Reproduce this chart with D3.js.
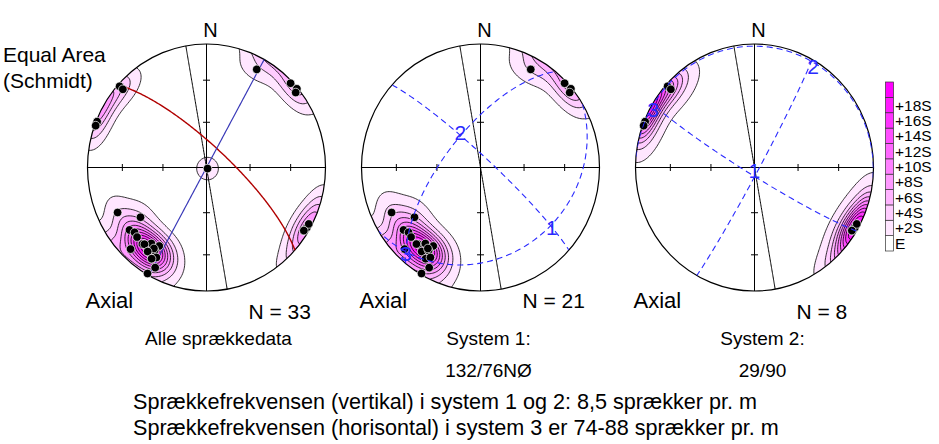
<!DOCTYPE html>
<html>
<head>
<meta charset="utf-8">
<script src="https://cdn.jsdelivr.net/npm/d3@7"></script>
<style>
  body { margin: 0; background: #fff; }
  svg { display: block; }
  text { font-family: "Liberation Sans", Arial, sans-serif; fill: #000; }
</style>
</head>
<body>
<svg id="chart" width="939" height="444"></svg>
<script>
// poles to fractures, [trend, plunge] in degrees
var system1Poles = [[28, 11], [46, 2], [50, 1], [51, 4],
    [244, 18], [234, 32], [232, 19], [229, 21], [226, 20], [220, 20], [217, 24], [212, 26],
    [224, 9], [216, 17], [213, 21], [212, 14], [210, 17], [208, 9], [210, 1], [221, 19], [214, 22]];
var system2Poles = [[312, 2], [312, 6], [292, 1], [290, 1], [122, 4], [120, 3], [118, 3], [122, 4]];
var system3Poles = [[135, 89]];
var otherPoles = [[220, 20], [216, 17], [212, 14]];

// planes, [dip direction, dip]
var profilePlane = [80, 90];
var system1Plane = [42, 76];
var system2Plane = [119, 90];

// principal axes (1, 2, 3), [trend, plunge]
var system1Axes = [[129, 24], [329, 63], [222, 7]];
var system2Axes = [[185, 88], [31, 5], [299, 3]];

var tickPlunges = [30, 60];
var sigmaLevels = [0, 2, 4, 6, 8, 10, 12, 14, 16, 18];
var levelLabels = ['E', '+2S', '+4S', '+6S', '+8S', '+10S', '+12S', '+14S', '+16S', '+18S'];

var panelTitles = [['Alle sprækkedata'], ['System 1:', '132/76NØ'], ['System 2:', '29/90']];
var footnotes = ['Sprækkefrekvensen (vertikal) i system 1 og 2: 8,5 sprækker pr. m',
    'Sprækkefrekvensen (horisontal) i system 3 er 74-88 sprækker pr. m'];

var RX = 119, RY = 123.5, CY = 167.5;
var centersX = [206.5, 480.5, 754.5];
var KAPPA = 50;
var rad = Math.PI / 180;

var svg = d3.select('#chart');

var panels = [
    {poles: system1Poles.concat(system2Poles, system3Poles, otherPoles), planes: [[profilePlane, '#000', 1], [system1Plane, '#b00000', 1.4], [system2Plane, '#3a3ab8', 1.2]], axes: null},
    {poles: system1Poles, planes: [[profilePlane, '#000', 1]], axes: system1Axes},
    {poles: system2Poles, planes: [[profilePlane, '#000', 1]], axes: system2Axes}
];

function toVec(trend, plunge) {
    var t = trend * rad, p = plunge * rad;
    return [Math.cos(p) * Math.sin(t), Math.cos(p) * Math.cos(t), Math.sin(p)];
}

function projectVec(v) {
    var x = v[0], y = v[1], z = v[2];
    if (z < 0) { x = -x; y = -y; z = -z; }
    var h = Math.sqrt(x * x + y * y);
    if (h < 1e-12) return [0, 0];
    var plunge = Math.atan2(z, h);
    var r = Math.SQRT2 * Math.sin((Math.PI / 2 - plunge) / 2);
    return [r * x / h, r * y / h];
}

function unproject(X, Y) {
    var r = Math.min(Math.sqrt(X * X + Y * Y), 1);
    var plunge = Math.PI / 2 - 2 * Math.asin(r / Math.SQRT2);
    var t = Math.atan2(X, Y);
    return [Math.cos(plunge) * Math.sin(t), Math.cos(plunge) * Math.cos(t), Math.sin(plunge)];
}

function greatCircle(plane) {
    var dd = plane[0] * rad, a = plane[1] * rad, s = (plane[0] - 90) * rad;
    var S = [Math.sin(s), Math.cos(s), 0];
    var D = [Math.cos(a) * Math.sin(dd), Math.cos(a) * Math.cos(dd), Math.sin(a)];
    return d3.range(0, 181).map(function (k) {
        var t = k * rad, c = Math.cos(t), n = Math.sin(t);
        return projectVec([c * S[0] + n * D[0], c * S[1] + n * D[1], c * S[2] + n * D[2]]);
    });
}

// exponential counting on a grid in projected space, in units of S above E
var GRID = 161, EXT = 1.04, STEP = 2 * EXT / (GRID - 1);

function densityGrid(poles) {
    var vecs = poles.map(function (p) { return toVec(p[0], p[1]); });
    var n = vecs.length;
    var expected = n / KAPPA;
    var sigma = Math.sqrt(n * (KAPPA / 2 - 1)) / KAPPA;
    var values = new Array(GRID * GRID);
    for (var j = 0; j < GRID; j++) {
        for (var i = 0; i < GRID; i++) {
            var v = unproject(-EXT + i * STEP, EXT - j * STEP);
            var sum = 0;
            vecs.forEach(function (p) {
                var c = Math.abs(p[0] * v[0] + p[1] * v[1] + p[2] * v[2]);
                sum += Math.exp(KAPPA * (c - 1));
            });
            values[j * GRID + i] = (sum - expected) / sigma;
        }
    }
    return values;
}

var levelColor = function (i) {
    return d3.interpolateRgb('#ffffff', '#ff00ff')((i + 1) / sigmaLevels.length);
};

var defs = svg.append('defs');

panels.forEach(function (panel, pi) {
    var cx = centersX[pi];
    var x = d3.scaleLinear().domain([-1, 1]).range([cx - RX, cx + RX]);
    var y = d3.scaleLinear().domain([-1, 1]).range([CY + RY, CY - RY]);
    var g = svg.append('g');

    defs.append('clipPath').attr('id', 'clip' + pi)
        .append('ellipse').attr('cx', cx).attr('cy', CY).attr('rx', RX).attr('ry', RY);

    var gridPath = d3.geoPath(d3.geoTransform({
        point: function (gx, gy) {
            this.stream.point(x(-EXT + (gx - 0.5) * STEP), y(EXT - (gy - 0.5) * STEP));
        }
    }));

    var contours = d3.contours().size([GRID, GRID]).thresholds(sigmaLevels)(densityGrid(panel.poles));

    g.append('g').attr('clip-path', 'url(#clip' + pi + ')')
        .selectAll('path')
        .data(contours)
        .enter().append('path')
        .attr('d', gridPath)
        .attr('fill', function (d, i) { return levelColor(i); })
        .attr('stroke', '#000')
        .attr('stroke-width', 0.8);

    // primitive and cross
    g.append('ellipse').attr('cx', cx).attr('cy', CY).attr('rx', RX).attr('ry', RY)
        .attr('fill', 'none').attr('stroke', '#000').attr('stroke-width', 1.2);
    g.append('line').attr('x1', x(-1)).attr('x2', x(1)).attr('y1', y(0)).attr('y2', y(0))
        .attr('stroke', '#000');
    g.append('line').attr('x1', x(0)).attr('x2', x(0)).attr('y1', y(1)).attr('y2', y(-1))
        .attr('stroke', '#000');

    [0, 90, 180, 270].forEach(function (trend) {
        tickPlunges.forEach(function (pl) {
            var p = projectVec(toVec(trend, pl));
            var horiz = trend === 90 || trend === 270;
            g.append('line')
                .attr('x1', x(p[0]) - (horiz ? 0 : 3.5)).attr('x2', x(p[0]) + (horiz ? 0 : 3.5))
                .attr('y1', y(p[1]) - (horiz ? 3.5 : 0)).attr('y2', y(p[1]) + (horiz ? 3.5 : 0))
                .attr('stroke', '#000');
        });
    });

    var line = d3.line().x(function (d) { return x(d[0]); }).y(function (d) { return y(d[1]); });

    panel.planes.forEach(function (pl) {
        g.append('path').attr('d', line(greatCircle(pl[0])))
            .attr('fill', 'none').attr('stroke', pl[1]).attr('stroke-width', pl[2]);
    });

    g.selectAll('circle.pole')
        .data(panel.poles)
        .enter().append('circle')
        .attr('class', 'pole')
        .attr('cx', function (d) { return x(projectVec(toVec(d[0], d[1]))[0]); })
        .attr('cy', function (d) { return y(projectVec(toVec(d[0], d[1]))[1]); })
        .attr('r', 4.3)
        .attr('fill', '#000')
        .attr('stroke', '#fff')
        .attr('stroke-width', 0.7);

    if (panel.axes) {
        panel.axes.forEach(function (ax) {
            var plane = [(ax[0] + 180) % 360, 90 - ax[1]];
            g.append('path').attr('d', line(greatCircle(plane)))
                .attr('clip-path', 'url(#clip' + pi + ')')
                .attr('fill', 'none').attr('stroke', '#2a2aff').attr('stroke-width', 1.1)
                .attr('stroke-dasharray', '6,4');
        });
        panel.axes.forEach(function (ax, k) {
            var p = projectVec(toVec(ax[0], ax[1]));
            g.append('text')
                .attr('x', x(p[0])).attr('y', y(p[1]))
                .attr('text-anchor', 'middle').attr('dominant-baseline', 'central')
                .style('font-size', '21px').style('fill', '#2a2aff')
                .text(k + 1);
        });
    }

    // labels
    g.append('text').attr('x', cx + 4).attr('y', 37).attr('text-anchor', 'middle')
        .style('font-size', '20px').text('N');
    g.append('text').attr('x', cx - 121).attr('y', 308)
        .style('font-size', '22px').text('Axial');
    g.append('text').attr('x', cx + 42).attr('y', pi === 1 ? 308 : 319)
        .style('font-size', '21px').text('N = ' + panel.poles.length);
    panelTitles[pi].forEach(function (t, k) {
        g.append('text').attr('x', cx + (pi === 0 ? 12 : 8)).attr('y', 345 + k * 32)
            .attr('text-anchor', 'middle').style('font-size', '19px').text(t);
    });
});

svg.append('text').attr('x', 3).attr('y', 62).style('font-size', '21px').text('Equal Area');
svg.append('text').attr('x', 3).attr('y', 88).style('font-size', '21px').text('(Schmidt)');

footnotes.forEach(function (t, k) {
    svg.append('text').attr('x', 133).attr('y', 409 + k * 26).style('font-size', '21.6px').text(t);
});

// legend
var legendColors = [0].concat(d3.range(sigmaLevels.length).map(function (i) { return i + 1; }));
var legendY = d3.scaleBand().domain(d3.range(legendColors.length)).range([251, 82]);
var legend = svg.append('g');
legend.selectAll('rect')
    .data(legendColors)
    .enter().append('rect')
    .attr('x', 885.5).attr('width', 8)
    .attr('y', function (d, i) { return legendY(i); })
    .attr('height', legendY.bandwidth())
    .attr('fill', function (d) { return d === 0 ? '#fff' : levelColor(d - 1); })
    .attr('stroke', '#333').attr('stroke-width', 0.7);
legend.selectAll('text')
    .data(levelLabels)
    .enter().append('text')
    .attr('x', 895)
    .attr('y', function (d, i) { return legendY(i) + legendY.bandwidth() / 2; })
    .attr('dominant-baseline', 'central')
    .style('font-size', '15.5px')
    .text(function (d) { return d; });
</script>
</body>
</html>
